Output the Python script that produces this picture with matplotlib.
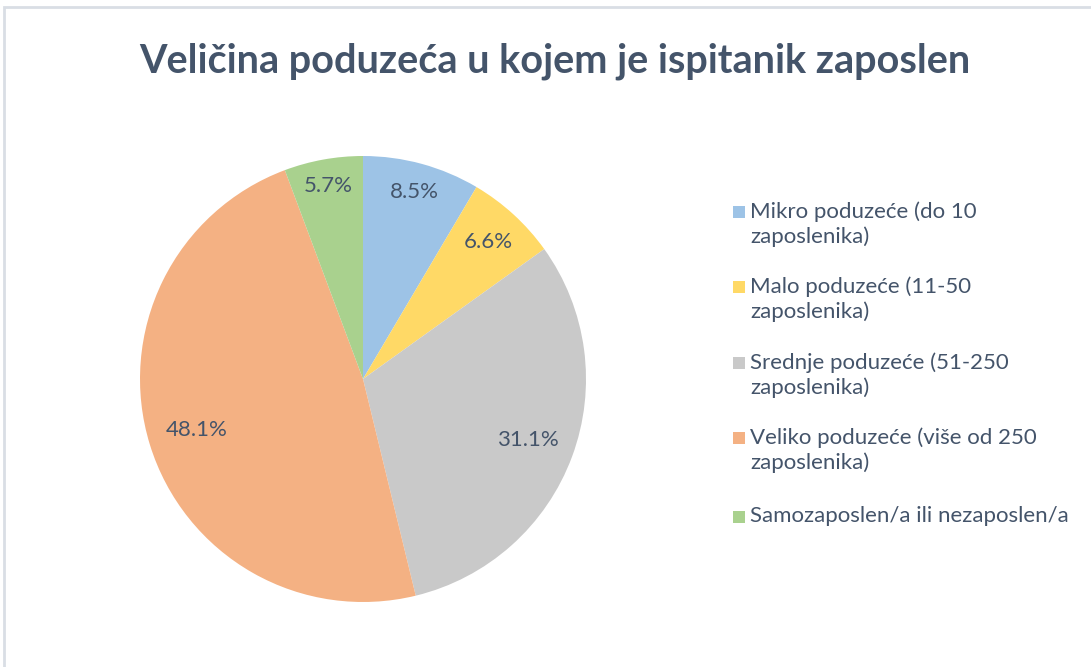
import numpy as np
import matplotlib.pyplot as plt
import matplotlib.patches as mpatches

# data
categories = [
    'Mikro poduzeće (do 10\nzaposlenika)',
    'Malo poduzeće (11-50\nzaposlenika)',
    'Srednje poduzeće (51-250\nzaposlenika)',
    'Veliko poduzeće (više od 250\nzaposlenika)',
    'Samozaposlen/a ili nezaposlen/a',
]
shares = [8.5, 6.6, 31.1, 48.1, 5.7]
colors = ['#9DC3E6', '#FFD966', '#C9C9C9', '#F4B183', '#A9D18E']
label_dist = [0.87, 0.83, 0.79, 0.78, 0.88]

title = 'Veličina poduzeća u kojem je ispitanik zaposlen'
text_color = '#44546A'

plt.rcParams['font.family'] = ['Lato', 'DejaVu Sans']

fig = plt.figure(figsize=(10.91, 6.67), dpi=100)
W, H = 1091, 667

# chart border (light gray frame)
fig.patches.append(mpatches.Rectangle((4 / W, -0.1), 1.2, (667 - 7) / H + 0.1,
                                      transform=fig.transFigure, fill=False,
                                      edgecolor='#D9DEE5', linewidth=2))

fig.text(555 / W, 1 - 61 / H, title, ha='center', va='center',
         fontsize=28.5, fontweight='bold', color=text_color)

# pie
cx, cy, r = 363, 379, 223
ax = fig.add_axes([(cx - r) / W, (H - cy - r) / H, 2 * r / W, 2 * r / H])
wedges, texts, autotexts = ax.pie(shares, colors=colors, startangle=90, counterclock=False,
                                  autopct='%.1f%%', pctdistance=0.8, radius=1,
                                  textprops=dict(color=text_color, fontsize=16))
for w, t, d in zip(wedges, autotexts, label_dist):
    ang = np.deg2rad((w.theta1 + w.theta2) / 2)
    t.set_position((d * np.cos(ang), d * np.sin(ang)))
ax.set_xlim(-1, 1)
ax.set_ylim(-1, 1)
ax.set_aspect('equal')

# legend (square aligned with first line, as in Excel)
leg_y = [212, 287, 363, 438, 517]
for lab, col, y in zip(categories, colors, leg_y):
    fig.patches.append(mpatches.Rectangle((733 / W, 1 - (y + 6) / H), 12 / W, 12 / H,
                                          transform=fig.transFigure, facecolor=col,
                                          edgecolor='none'))
    fig.text(750 / W, 1 - (y - 11) / H, lab, ha='left', va='top', fontsize=16,
             color=text_color, linespacing=1.32)

fig.savefig('out.png', dpi=100)
